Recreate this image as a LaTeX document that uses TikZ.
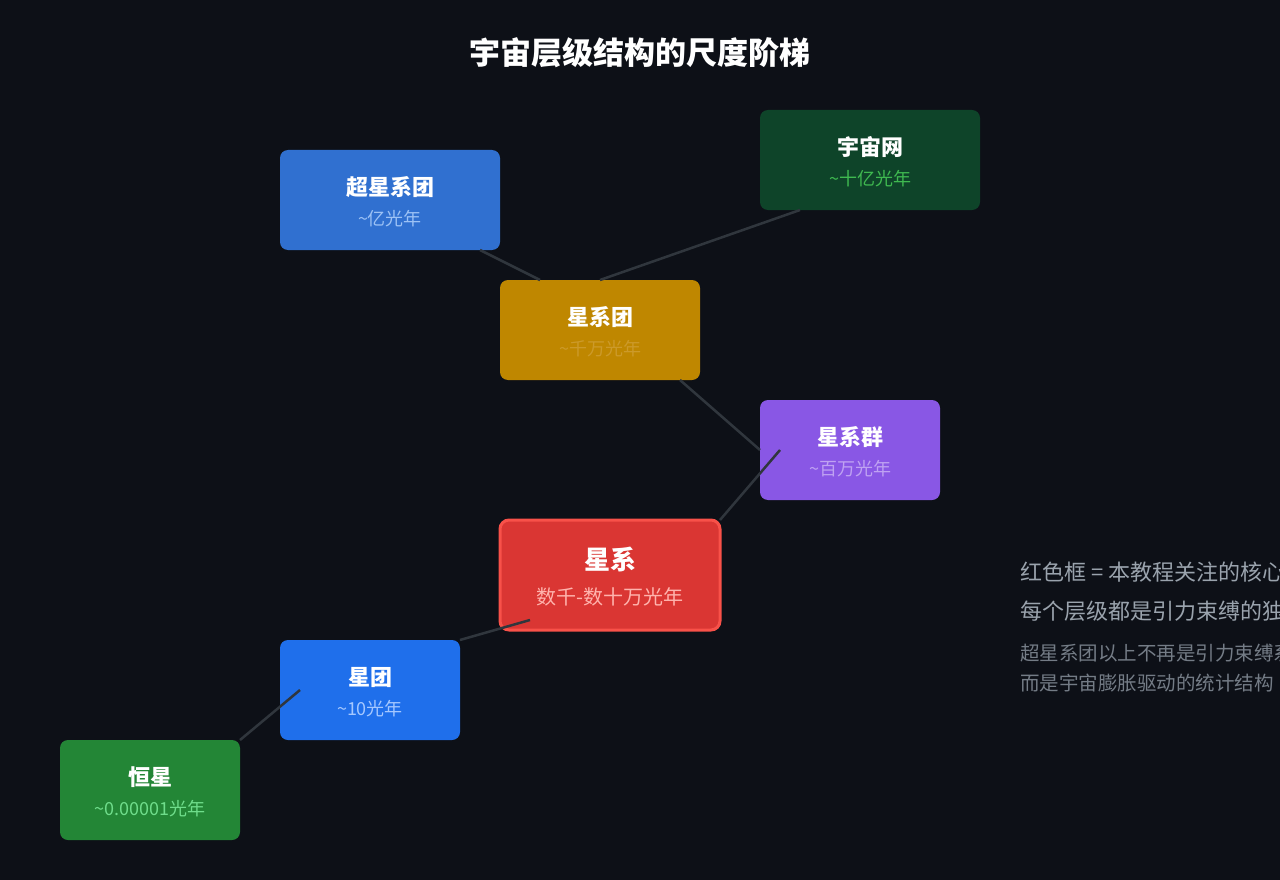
\documentclass[tikz,border=0pt]{standalone}
\usepackage{fontspec}
\setmainfont{Noto Sans CJK SC}
\definecolor{bg}{HTML}{0D1017}
\definecolor{ln}{HTML}{30363D}
\definecolor{cA}{HTML}{3070D0}\definecolor{sA}{HTML}{9CC2F5}
\definecolor{cB}{HTML}{0E4429}\definecolor{sB}{HTML}{3FB950}
\definecolor{cC}{HTML}{BF8700}\definecolor{sC}{HTML}{CC9A2A}
\definecolor{cD}{HTML}{8957E5}\definecolor{sD}{HTML}{BFA2F2}
\definecolor{cE}{HTML}{DA3633}\definecolor{bE}{HTML}{F85149}\definecolor{sE}{HTML}{FFB3AD}
\definecolor{cF}{HTML}{1F6FEB}\definecolor{sF}{HTML}{A5C8FF}
\definecolor{cG}{HTML}{238636}\definecolor{sG}{HTML}{6FDD8B}
\definecolor{t1}{HTML}{9AA3AD}\definecolor{t2}{HTML}{747C86}
\begin{document}
\begin{tikzpicture}[x=1pt,y=-1pt,
  box/.style={rounded corners=8pt,inner sep=0pt},
  ttl/.style={text=white,font=\bfseries\fontsize{22}{26}\selectfont},
  sub/.style={font=\fontsize{18}{21}\selectfont},
  con/.style={draw=ln,line width=2.5pt}]
\clip (0,0) rectangle (1280,880);
\fill[bg] (0,0) rectangle (1280,880);
\node[text=white,font=\bfseries\fontsize{31}{35}\selectfont] (title) at (640,53) {宇宙层级结构的尺度阶梯};
\def\bx#1#2#3#4#5#6#7#8#9{%
  \fill[box,#5] (#1,#2) rectangle (#3,#4);
  \node[ttl] (#6) at ({(#1+#3)/2},{(#2+#4)/2-13}) {#7};
  \node[sub,text=#8] (#6s) at ({(#1+#3)/2},{(#2+#4)/2+19}) {#9};}
\bx{280}{150}{500}{250}{cA}{sc}{超星系团}{sA}{\textasciitilde 亿光年}
\bx{760}{110}{980}{210}{cB}{web}{宇宙网}{sB}{\textasciitilde 十亿光年}
\bx{500}{280}{700}{380}{cC}{cl}{星系团}{sC}{\textasciitilde 千万光年}
\bx{760}{400}{940}{500}{cD}{gr}{星系群}{sD}{\textasciitilde 百万光年}
\bx{280}{640}{460}{740}{cF}{oc}{星团}{sF}{\textasciitilde 10光年}
\bx{60}{740}{240}{840}{cG}{st}{恒星}{sG}{\textasciitilde 0.00001光年}
\draw[rounded corners=9pt,fill=cE,draw=bE,line width=3pt] (500,520) rectangle (720,630);
\node[text=white,font=\bfseries\fontsize{26}{30}\selectfont] (gal) at (610,559) {星系};
\node[sub,text=sE,font=\fontsize{20}{24}\selectfont] (gals) at (610,597) {数千-数十万光年};
\coordinate (a1) at (480,250); \coordinate (a2) at (540,280);
\coordinate (b1) at (800,210); \coordinate (b2) at (600,280);
\coordinate (c1) at (680,380); \coordinate (c2) at (760,450);
\coordinate (d1) at (780,450); \coordinate (d2) at (720,520);
\coordinate (e1) at (530,620); \coordinate (e2) at (460,640);
\coordinate (f1) at (300,690); \coordinate (f2) at (240,740);
\draw[con] (a1)--(a2); \draw[con] (b1)--(b2); \draw[con] (c1)--(c2);
\draw[con] (d1)--(d2); \draw[con] (e1)--(e2); \draw[con] (f1)--(f2);
\begin{scope}[every node/.style={anchor=west,inner sep=0pt}]
\node[text=t1,font=\fontsize{22}{26}\selectfont] (n1) at (1020,572) {红色框 = 本教程关注的核心层级};
\node[text=t1,font=\fontsize{22}{26}\selectfont] (n2) at (1020,611) {每个层级都是引力束缚的独立系统};
\node[text=t2,font=\fontsize{19.5}{23}\selectfont] (n3) at (1020,653) {超星系团以上不再是引力束缚系统，};
\node[text=t2,font=\fontsize{19.5}{23}\selectfont] (n4) at (1020,683) {而是宇宙膨胀驱动的统计结构};
\end{scope}
\end{tikzpicture}
\end{document}
